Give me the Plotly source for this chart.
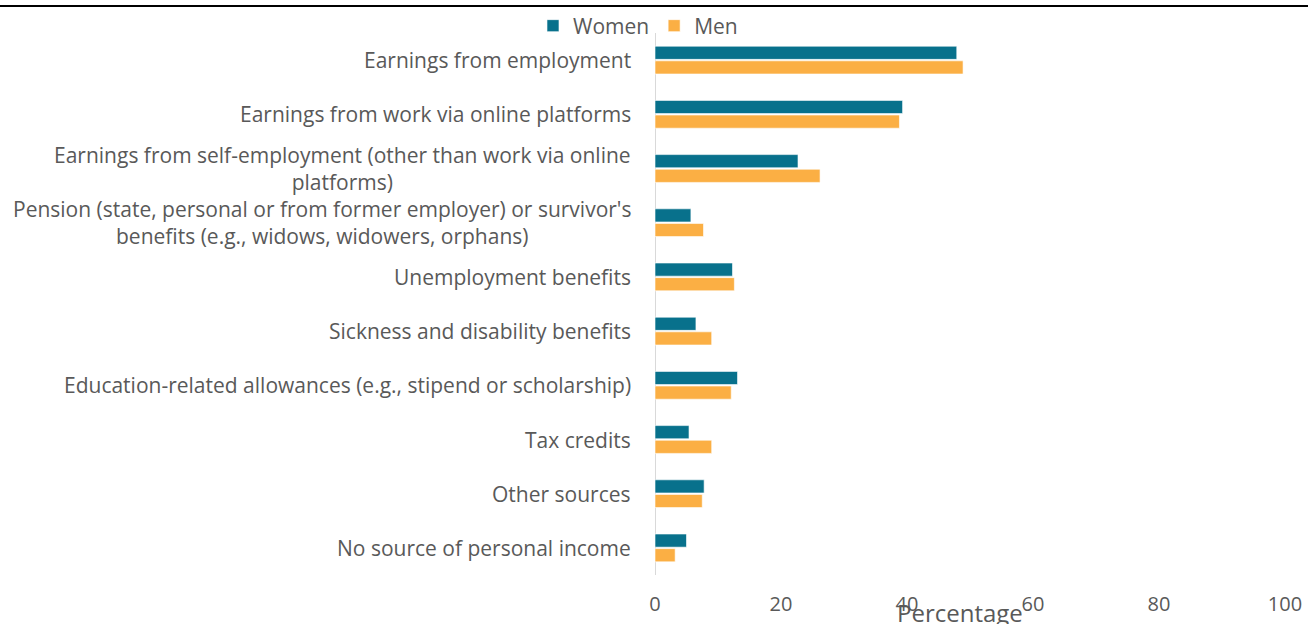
import plotly.graph_objects as go

categories = [
    "Earnings from employment",
    "Earnings from work via online platforms",
    "Earnings from self-employment (other than work via online<br>platforms)",
    "Pension (state, personal or from former employer) or survivor's<br>benefits (e.g., widows, widowers, orphans)",
    "Unemployment benefits",
    "Sickness and disability benefits",
    "Education-related allowances (e.g., stipend or scholarship)",
    "Tax credits",
    "Other sources",
    "No source of personal income",
]
women = [47.9, 39.3, 22.7, 5.7, 12.3, 6.5, 13.1, 5.4, 7.8, 5.0]
men = [48.9, 38.8, 26.2, 7.7, 12.6, 9.0, 12.1, 9.0, 7.5, 3.2]
x_ticks = [0, 20, 40, 60, 80, 100]

TEAL = "#08718C"
ORANGE = "#FBAF44"
GREY = "#595959"
FONT = "Open Sans"

fig = go.Figure()
fig.add_trace(go.Bar(y=categories, x=women, name="Women", orientation="h",
                     marker={"color": TEAL, "line": {"color": "rgba(255,255,255,0.6)", "width": 1}}))
fig.add_trace(go.Bar(y=categories, x=men, name="Men", orientation="h",
                     marker={"color": ORANGE, "line": {"color": "rgba(255,255,255,0.6)", "width": 1}}))

# category labels as centred multi-line annotations (plotly right-aligns tick lines)
for cat in categories:
    fig.add_annotation(x=0, xref="paper", y=cat, yref="y", text=cat, showarrow=False,
                       xanchor="right", xshift=-22, align="center",
                       font={"family": FONT, "size": 21, "color": GREY})

fig.add_annotation(x=0.484, xref="paper", y=-37 / 575, yref="paper", text="Percentage",
                   showarrow=False, xanchor="center", yanchor="middle",
                   font={"family": FONT, "size": 24, "color": GREY})

# top rule across the whole figure
fig.add_shape(type="line", xref="paper", yref="paper", x0=-655 / 630, x1=653 / 630,
              y0=1 - 6 / 575, y1=1 - 6 / 575, line={"color": "black", "width": 2})
# value axis baseline (plot area runs to the top so the legend sits inside it)
fig.add_shape(type="line", xref="x", yref="paper", x0=0, x1=0, y0=0, y1=1 - 33 / 575,
              line={"color": "#D9D9D9", "width": 2}, layer="below")

fig.update_layout(
    width=1308,
    height=624,
    margin={"l": 655, "r": 23, "t": 0, "b": 49},
    plot_bgcolor="white",
    paper_bgcolor="white",
    barmode="group",
    bargap=0.46,
    bargroupgap=0.1,
    font={"family": FONT, "size": 20, "color": GREY},
    showlegend=True,
    legend={"orientation": "h", "x": -0.027, "xanchor": "center", "y": 1 - 26 / 575, "yanchor": "middle",
            "font": {"family": FONT, "size": 21, "color": GREY},
            "bgcolor": "rgba(0,0,0,0)"},
    xaxis={"range": [0, 100], "tickvals": x_ticks, "showgrid": False, "zeroline": False,
           "showline": False, "ticks": "outside", "ticklen": 11, "tickcolor": "white",
           "automargin": False, "tickfont": {"family": FONT, "size": 20, "color": GREY}},
    yaxis={"range": [9.5, 9.5 - 575 / 54.2], "showticklabels": False, "showgrid": False,
           "showline": False, "zeroline": False, "automargin": False},
)

fig.write_html("out.html", config={"displayModeBar": False},
               post_script="document.body.style.margin='0';")
